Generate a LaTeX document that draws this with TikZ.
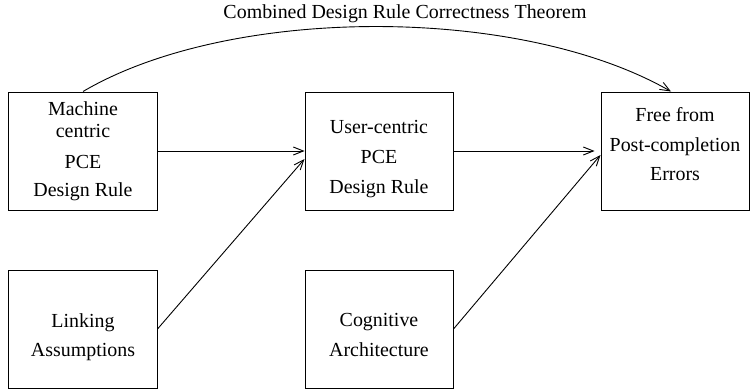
\documentclass[tikz,border=0pt]{standalone}
\usepackage{fontspec}
\setmainfont{Liberation Serif}
\usetikzlibrary{arrows.meta,positioning}

\begin{document}
\begin{tikzpicture}[
    x=1bp, y=1bp,
    node distance=59bp and 147bp,
    every node/.style={font=\fontsize{20}{24}\selectfont},
    box/.style={rectangle, draw, line width=1bp, minimum width=148bp,
                minimum height=118bp, inner sep=0pt, align=center},
    arrow/.style={-{Straight Barb[length=10bp,width=8bp]}, line width=0.9bp},
]
\useasboundingbox (0,0) rectangle (754,390);
\node[box] at (83,239) (mcpce) {Machine\\[-2bp] centric\\[7bp] PCE\\[4bp] Design Rule};
\node[box, right=of mcpce] (ucpce) {User-centric\\[6bp] PCE\\[6bp] Design Rule\\[-36bp]};
\node[box, right=of ucpce] (free) {Free from\\[6bp] Post-completion\\[6bp] Errors\\[-10bp]};
\node[box, below=of mcpce] (linking) {Linking\\[6bp] Assumptions\\[-36bp]};
\node[box, below=of ucpce] (cogarch) {Cognitive\\[6bp] Architecture\\[-36bp]};
\node (theorem) at (405,376) {Combined Design Rule Correctness Theorem};
\draw[arrow] (mcpce) -- (ucpce);
\draw[arrow, shorten >=6bp] (ucpce) -- (free);
\draw[arrow] (linking.east) -- ([yshift=-8bp]ucpce.west);
\draw[arrow] (cogarch.east) -- ([yshift=-4bp]free.west);
\draw[arrow] (mcpce.north) .. controls (230,385) and (520,385) .. ([xshift=-4bp]free.north);
\end{tikzpicture}
\end{document}
